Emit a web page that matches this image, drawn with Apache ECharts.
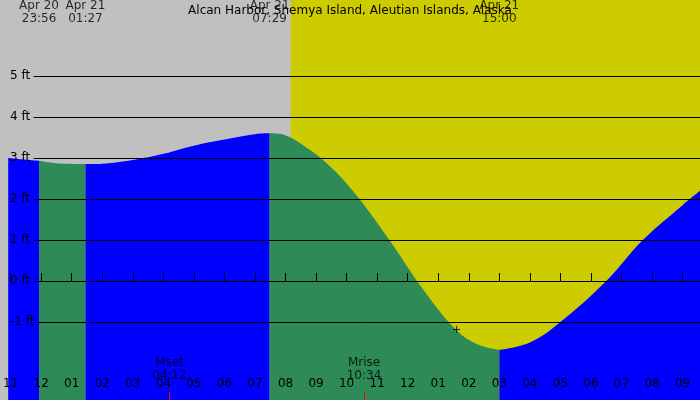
<!DOCTYPE html><html><head><meta charset="utf-8"><script src="https://cdn.jsdelivr.net/npm/echarts@6/dist/echarts.min.js"></script></head><body style="margin:0"><div id="c" style="width:700px;height:400px"></div><script>
const hours=[-1.08,-0.07,0.5,1.45,2,3,4,5,6,7,7.48,8,8.6,9.3,10.2,11.4,12.5,13.6,14.3,15,16,17,18.5,19.7,21,21.57];
const heights=[3.0,2.93,2.87,2.85,2.86,2.95,3.1,3.3,3.45,3.58,3.6,3.55,3.3,2.9,2.2,1.0,-0.2,-1.2,-1.55,-1.68,-1.5,-1.0,0,1.0,1.85,2.2];
const bounds=[-1.08,-0.07,1.45,7.48,15,21.57];
const segColors=['#0000ff','#2e8b57','#0000ff','#2e8b57','#0000ff'];
const sunrise=8.17;
const ftTicks=[-1,0,1,2,3,4,5];
const topLabels=[[-0.07,'Apr 20\n23:56'],[1.45,'Apr 21\n01:27'],[7.48,'Apr 21\n07:29'],[15,'Apr 21\n15:00']];
const moonLabels=[[4.2,'Mset\n04:12'],[10.57,'Mrise\n10:34']];
const XMIN=-1.084,XMAX=21.57,YMIN=-2.9,YMAX=6.85;
const hourTicks=[];for(let h=-1;h<=21;h++)hourTicks.push(h);
const pts=hours.map((h,i)=>[h,heights[i]]);
const series=[{type:'line',data:[],z:1,silent:true,
 markArea:{silent:true,data:[[{xAxis:XMIN,yAxis:YMIN,itemStyle:{color:'#c0c0c0'}},{xAxis:sunrise,yAxis:YMAX}],[{xAxis:sunrise,yAxis:YMIN,itemStyle:{color:'#cccc00'}},{xAxis:XMAX,yAxis:YMAX}]]},
 markLine:{silent:true,symbol:'none',label:{show:false},lineStyle:{color:'#000',width:1,type:'solid'},data:ftTicks.map(v=>[{coord:[-0.25,v]},{coord:[XMAX,v]}])}}];
for(let s=0;s<5;s++){
 const d=pts.filter(p=>p[0]>=bounds[s]-1e-9&&p[0]<=bounds[s+1]+1e-9);
 series.push({type:'line',data:d,smooth:0.4,symbol:'none',z:3,lineStyle:{width:0},areaStyle:{color:segColors[s],opacity:1,origin:'start'}});
}
series.push({type:'scatter',z:5,symbolSize:0,data:topLabels.map(t=>({value:[t[0],6.55],label:{formatter:t[1]}})),label:{show:true,position:'inside',color:'#000',fontSize:12,lineHeight:13,fontFamily:'DejaVu Sans'}});
series.push({type:'scatter',z:5,symbolSize:0,data:moonLabels.map(t=>({value:[t[0],-2.15],label:{formatter:t[1]}})),label:{show:true,position:'inside',color:'#000',fontSize:12,lineHeight:13,fontFamily:'DejaVu Sans'},
 markLine:{silent:true,symbol:'none',label:{show:false},lineStyle:{color:'#ff0000',width:1,type:'solid'},data:moonLabels.map(t=>[{coord:[t[0],YMIN]},{coord:[t[0],-2.7]}])}});
series.push({type:'scatter',z:5,symbolSize:0,data:[[13.6,-1.2]],label:{show:true,position:'inside',formatter:'+',color:'#000',fontSize:14}});
const ch=echarts.init(document.getElementById('c'));
ch.setOption({animation:false,backgroundColor:'#c0c0c0',
 title:{text:'Alcan Harbor, Shemya Island, Aleutian Islands, Alaska',left:'center',top:0,textStyle:{fontSize:12,fontWeight:'normal',color:'#000',fontFamily:'DejaVu Sans'}},
 grid:{left:0,right:0,top:0,bottom:0},
 xAxis:{type:'value',min:XMIN,max:XMAX,z:6,axisLine:{show:false},splitLine:{show:false},
  axisTick:{inside:true,length:8,customValues:hourTicks,lineStyle:{color:'#000'}},
  axisLabel:{inside:true,margin:10,customValues:hourTicks,color:'#000',fontSize:12,fontFamily:'DejaVu Sans',formatter:v=>{let h=((Math.round(v)%12)+12)%12;if(h===0)h=12;return String(h).padStart(2,'0');}}},
 yAxis:{type:'value',min:YMIN,max:YMAX,z:6,axisLine:{show:false},axisTick:{show:false},splitLine:{show:false},
  axisLabel:{inside:true,margin:2,customValues:ftTicks,color:'#000',fontSize:12,fontFamily:'DejaVu Sans',formatter:'{value} ft',verticalAlign:'middle'}},
 series});
</script></body></html>
